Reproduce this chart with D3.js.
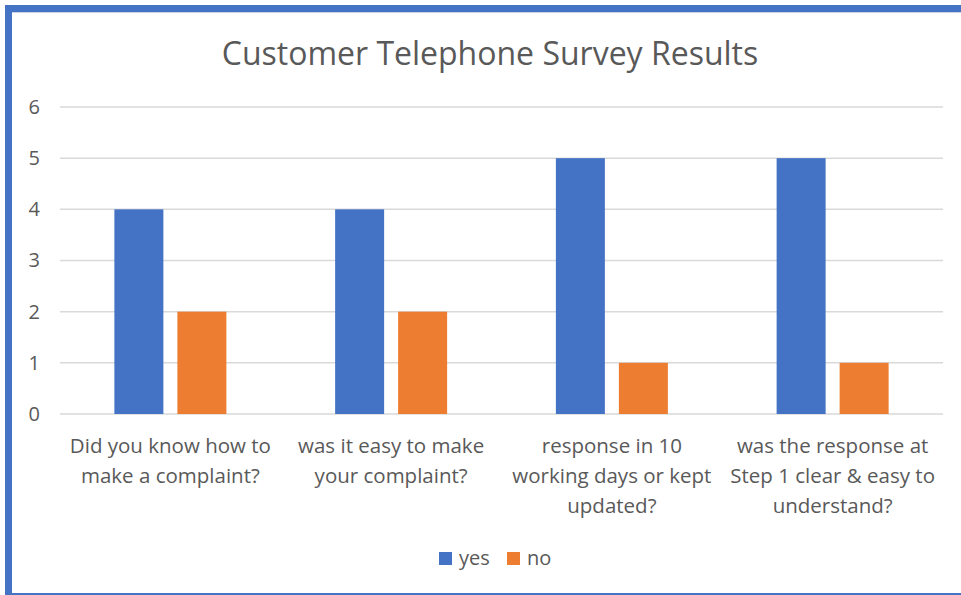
<!DOCTYPE html>
<html>
<head>
<meta charset="utf-8">
<title>Customer Telephone Survey Results</title>
<script src="https://d3js.org/d3.v7.min.js"></script>
<style>
  body { margin: 0; background: #fff; }
  text { font-family: "Open Sans", "Noto Sans", sans-serif; fill: #595959; }
</style>
</head>
<body>
<script>
  // chart data
  var categories = [
    ["Did you know how to", "make a complaint?"],
    ["was it easy to make", "your complaint?"],
    ["response in 10", "working days or kept", "updated?"],
    ["was the response at", "Step 1 clear & easy to", "understand?"]
  ];
  var seriesNames = ["yes", "no"];
  var yesValues = [4, 4, 5, 5];
  var noValues = [2, 2, 1, 1];
  var yTicks = [0, 1, 2, 3, 4, 5, 6];
  var colors = ["#4472c4", "#ed7d31"];

  var width = 961, height = 595;
  var plot = { left: 60, right: 943, top: 107, bottom: 414 };

  var svg = d3.select("body").append("svg")
    .attr("width", width)
    .attr("height", height);

  // frame (only left, top, bottom visible - the screenshot is cut on the right)
  svg.append("rect").attr("x", 0).attr("y", 0).attr("width", width).attr("height", height).attr("fill", "#fff");
  svg.append("line").attr("x1", 8.5).attr("x2", 8.5).attr("y1", 5).attr("y2", 595)
    .attr("stroke", "#4472c4").attr("stroke-width", 7);
  svg.append("line").attr("x1", 5).attr("x2", 961).attr("y1", 8.5).attr("y2", 8.5)
    .attr("stroke", "#4472c4").attr("stroke-width", 7);
  svg.append("line").attr("x1", 12).attr("x2", 961).attr("y1", 12.5).attr("y2", 12.5)
    .attr("stroke", "#c9d3e8").attr("stroke-width", 1);
  svg.append("line").attr("x1", 5).attr("x2", 961).attr("y1", 594).attr("y2", 594)
    .attr("stroke", "#4472c4").attr("stroke-width", 2);

  svg.append("text")
    .attr("x", 490).attr("y", 65)
    .attr("text-anchor", "middle")
    .style("font-size", "32px")
    .text("Customer Telephone Survey Results");

  var x = d3.scaleBand().domain(d3.range(categories.length)).range([plot.left, plot.right]);
  var y = d3.scaleLinear().domain([0, 6]).range([plot.bottom, plot.top]);

  // gridlines
  svg.append("g").selectAll("line")
    .data(yTicks)
    .enter().append("line")
    .attr("x1", plot.left).attr("x2", plot.right)
    .attr("y1", function(d) { return y(d); })
    .attr("y2", function(d) { return y(d); })
    .attr("stroke", "#d9d9d9")
    .attr("stroke-width", 1.5);

  // y axis labels
  var yAxis = d3.axisLeft(y).tickValues(yTicks).tickFormat(d3.format("d")).tickSize(0).tickPadding(0);
  var ya = svg.append("g").attr("transform", "translate(40,0)").call(yAxis);
  ya.select(".domain").remove();
  ya.selectAll("text").style("font-size", "20px").attr("fill", "#595959")
    .style("font-family", "'Open Sans', sans-serif");

  // bars
  var barW = 49, gap = 14;
  var series = [yesValues, noValues];
  series.forEach(function(vals, s) {
    svg.append("g").selectAll("rect")
      .data(vals)
      .enter().append("rect")
      .attr("x", function(d, i) {
        var c = x(i) + x.bandwidth() / 2;
        return s === 0 ? c - gap / 2 - barW : c + gap / 2;
      })
      .attr("y", function(d) { return y(d); })
      .attr("width", barW)
      .attr("height", function(d) { return y(0) - y(d); })
      .attr("fill", colors[s]);
  });

  // category labels
  var cat = svg.append("g").selectAll("text")
    .data(categories)
    .enter().append("text")
    .attr("text-anchor", "middle")
    .style("font-size", "20.5px")
    .attr("transform", function(d, i) { return "translate(" + (x(i) + x.bandwidth() / 2) + ",453)"; });
  cat.selectAll("tspan")
    .data(function(d) { return d; })
    .enter().append("tspan")
    .attr("x", 0)
    .attr("y", function(d, i) { return i * 30; })
    .text(function(d) { return d; });

  // legend
  var legend = svg.append("g").attr("transform", "translate(439,552)");
  var lx = [0, 68];
  seriesNames.forEach(function(n, i) {
    legend.append("rect").attr("x", lx[i]).attr("y", 0).attr("width", 13).attr("height", 13).attr("fill", colors[i]);
    legend.append("text").attr("x", lx[i] + 20).attr("y", 13).style("font-size", "20px").text(n);
  });
</script>
</body>
</html>
